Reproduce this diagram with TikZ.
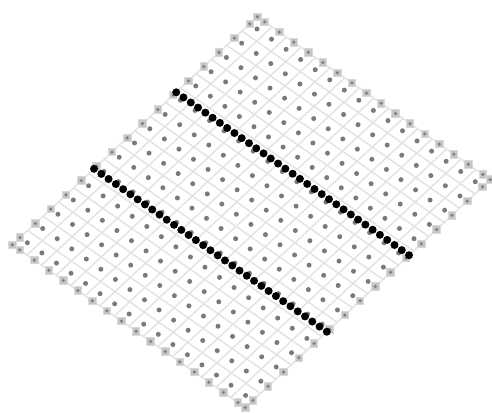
\documentclass[tikz,border=0pt]{standalone}
\tikzset{
    gridline/.style={line width=0.85pt, gray!22},
    edgebox/.style={fill=gray!45, draw=gray!30, line width=0.5pt},
    edgemark/.style={fill=black!50},
    celldot/.style={fill=black!52},
    sourcedot/.style={fill=black}
}
\begin{document}
\begin{tikzpicture}
    \useasboundingbox (0, 0) rectangle (9.84, 8.26);

    \begin{scope}[shift={(5.14, 7.68)}, x={(-0.3062cm, -0.285cm)}, y={(0.291cm, -0.2036cm)}]

        % --- CELL LINES ---
        \foreach \k in {0,...,16} {
            \draw[gridline] (\k-0.5, -0.5) -- (\k-0.5, 15.5);
            \draw[gridline] (-0.5, \k-0.5) -- (15.5, \k-0.5);
        }

        % --- BOUNDARY BOXES ---
        \foreach \k in {0,...,15} {
            \foreach \p/\q in {\k/-0.5, \k/15.5, -0.5/\k, 15.5/\k} {
                \fill[edgebox] ([xshift=-0.075cm, yshift=-0.075cm]\p, \q) rectangle ([xshift=0.075cm, yshift=0.075cm]\p, \q);
                \fill[edgemark] (\p, \q) circle (0.035cm);
            }
        }
        % Corners
        \foreach \p/\q in {-0.5/-0.5, 15.5/-0.5, -0.5/15.5, 15.5/15.5} {
            \fill[edgebox] ([xshift=-0.075cm, yshift=-0.075cm]\p, \q) rectangle ([xshift=0.075cm, yshift=0.075cm]\p, \q);
            \fill[edgemark] (\p, \q) circle (0.035cm);
        }

        % --- CELL CENTRES ---
        \foreach \p in {0,...,15} {
            \foreach \q in {0,...,15} {
                \fill[celldot] (\p, \q) circle (0.05cm);
            }
        }

        % --- SOURCE LINES ---
        \foreach \p in {4.8, 10.17} {
            \foreach \q in {0,...,32} {
                \fill[sourcedot] (\p, \q/2-0.5) circle (0.08cm);
            }
        }
    \end{scope}

\end{tikzpicture}
\end{document}
